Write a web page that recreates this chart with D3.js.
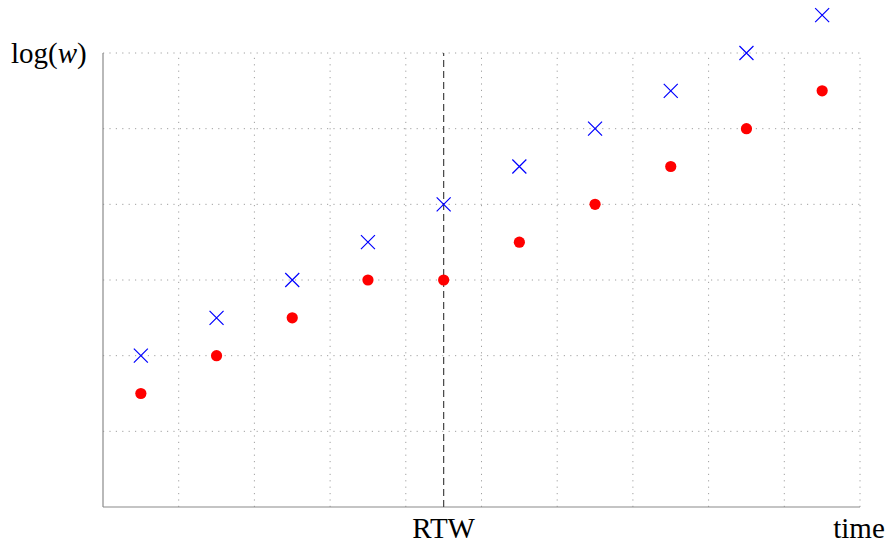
<!DOCTYPE html>
<html>
<head>
<meta charset="utf-8">
<script src="https://cdn.jsdelivr.net/npm/d3@7"></script>
<style>
  body { margin: 0; background: #fff; }
</style>
</head>
<body>
<svg id="svg" width="889" height="546"></svg>
<script>
// data
const timeX = [0.5, 1.5, 2.5, 3.5, 4.5, 5.5, 6.5, 7.5, 8.5, 9.5];
const crossY = [2, 2.5, 3, 3.5, 4, 4.5, 5, 5.5, 6, 6.5];
const dotY = [1.5, 2, 2.5, 3, 3, 3.5, 4, 4.5, 5, 5.5];
const rtwX = 4.5;
const xGrid = [1, 2, 3, 4, 5, 6, 7, 8, 9, 10];
const yGrid = [1, 2, 3, 4, 5, 6];

const svg = d3.select("#svg");
const plotL = 103, plotR = 860, plotT = 53, plotB = 507;
const serif = "'Liberation Serif', 'DejaVu Serif', serif";

const x = d3.scaleLinear().domain([0, 10]).range([plotL, plotR]);
const y = d3.scaleLinear().domain([0, 6]).range([plotB, plotT]);

// grid (dotted)
const grid = svg.append("g")
  .attr("stroke", "#a0a0a0")
  .attr("stroke-width", 1)
  .attr("stroke-dasharray", "1.2 5.2");
grid.selectAll(".gx").data(xGrid).join("line")
  .attr("x1", d => x(d)).attr("x2", d => x(d))
  .attr("y1", y(0)).attr("y2", y(6));
grid.selectAll(".gy").data(yGrid).join("line")
  .attr("x1", x(0)).attr("x2", x(10))
  .attr("y1", d => y(d)).attr("y2", d => y(d));

// axes
svg.append("line")
  .attr("x1", x(0)).attr("x2", x(0)).attr("y1", y(0)).attr("y2", y(6))
  .attr("stroke", "#8a8a8a").attr("stroke-width", 1.2);
svg.append("line")
  .attr("x1", x(0)).attr("x2", x(10)).attr("y1", y(0)).attr("y2", y(0))
  .attr("stroke", "#8a8a8a").attr("stroke-width", 1.2);

// RTW dashed line
svg.append("line")
  .attr("x1", x(rtwX)).attr("x2", x(rtwX))
  .attr("y1", y(0)).attr("y2", y(6))
  .attr("stroke", "#444").attr("stroke-width", 1.2)
  .attr("stroke-dasharray", "7 4");

// red dots
svg.append("g").selectAll("circle")
  .data(timeX.map((d, i) => [d, dotY[i]]))
  .join("circle")
  .attr("cx", d => x(d[0]))
  .attr("cy", d => y(d[1]))
  .attr("r", 5.6)
  .attr("fill", "#ff0000");

// blue crosses
const s = 7;
svg.append("g").selectAll("path")
  .data(timeX.map((d, i) => [d, crossY[i]]))
  .join("path")
  .attr("d", d => {
    const cx = x(d[0]), cy = y(d[1]);
    return `M ${cx - s} ${cy - s} L ${cx + s} ${cy + s} M ${cx - s} ${cy + s} L ${cx + s} ${cy - s}`;
  })
  .attr("stroke", "#0000ff")
  .attr("stroke-width", 1.2)
  .attr("fill", "none");

// labels
const ylab = svg.append("text")
  .attr("x", 11).attr("y", 63)
  .attr("font-family", serif)
  .attr("font-size", 29);
ylab.append("tspan").text("log(");
ylab.append("tspan").attr("font-style", "italic").text("w");
ylab.append("tspan").text(")");

svg.append("text")
  .attr("x", x(rtwX)).attr("y", 538)
  .attr("text-anchor", "middle")
  .attr("font-family", serif)
  .attr("font-size", 29)
  .text("RTW");

svg.append("text")
  .attr("x", 859).attr("y", 538)
  .attr("text-anchor", "middle")
  .attr("font-family", serif)
  .attr("font-size", 29)
  .text("time");
</script>
</body>
</html>
